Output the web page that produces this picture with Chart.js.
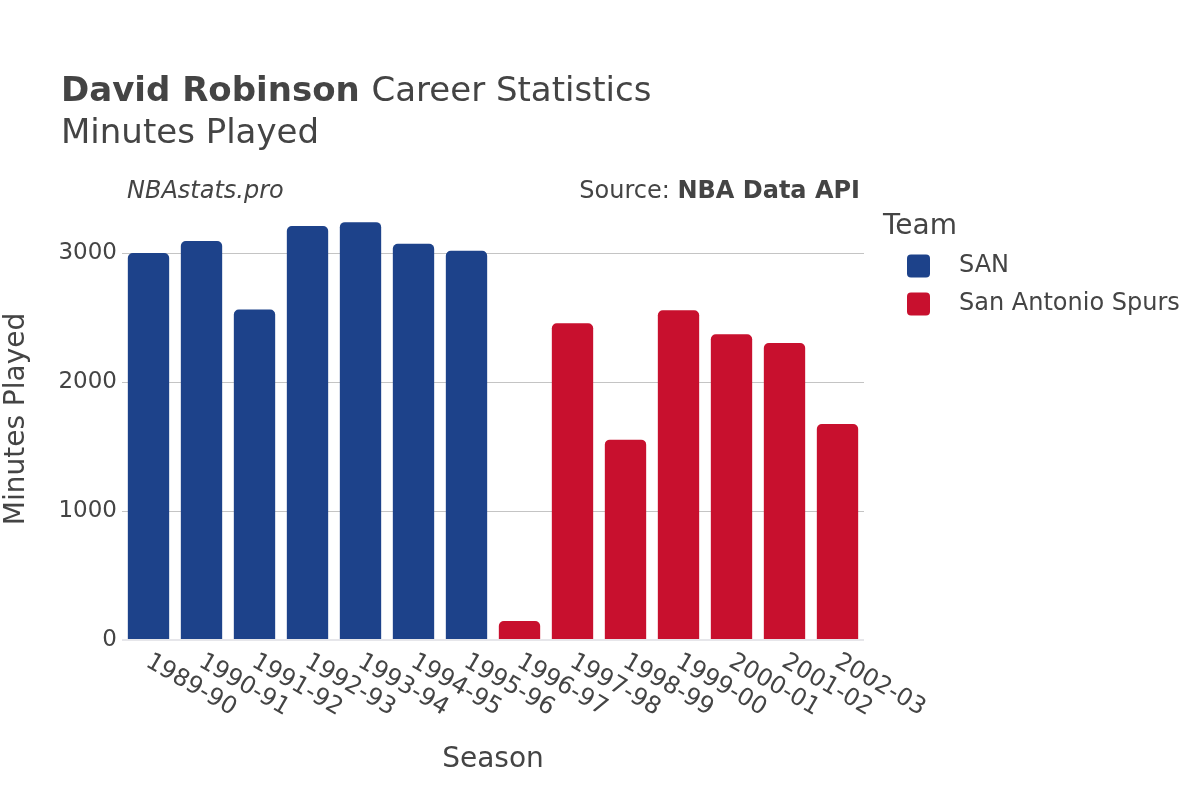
<!DOCTYPE html>
<html>
<head>
<meta charset="utf-8">
<script src="https://cdn.jsdelivr.net/npm/chart.js@4"></script>
<style>
html,body{margin:0;padding:0;background:#fff;}
#wrap{width:1200px;height:800px;position:relative;}
</style>
</head>
<body>
<div id="wrap"><canvas id="c" width="1200" height="800"></canvas></div>
<script>
const seasons = ["1989-90","1990-91","1991-92","1992-93","1993-94","1994-95","1995-96","1996-97","1997-98","1998-99","1999-00","2000-01","2001-02","2002-03"];
const sanMinutes = [3002,3095,2564,3211,3241,3074,3019,null,null,null,null,null,null,null];
const spursMinutes = [null,null,null,null,null,null,null,147,2457,1554,2557,2371,2303,1676];
const teamNames = ["SAN","San Antonio Spurs"];
const teamColors = ["#1D428A","#C8102E"];
const yTicks = [0,1000,2000,3000];

const FONT = "'DejaVu Sans', 'Liberation Sans', sans-serif";
const TEXT = "#444444";

const textPlugin = {
  id: 'textPlugin',
  afterDraw(chart) {
    const ctx = chart.ctx;
    const xs = chart.scales.x;
    ctx.save();
    ctx.fillStyle = TEXT;
    // Title
    ctx.textBaseline = 'alphabetic';
    ctx.textAlign = 'left';
    ctx.font = "bold 34px " + FONT;
    const boldPart = "David Robinson";
    ctx.fillText(boldPart, 61, 101);
    const bw = ctx.measureText(boldPart + " ").width;
    ctx.font = "34px " + FONT;
    ctx.fillText("Career Statistics", 61 + bw, 101);
    ctx.fillText("Minutes Played", 61, 143);
    // annotations
    ctx.font = "italic 24px " + FONT;
    ctx.textBaseline = 'middle';
    ctx.fillText("NBAstats.pro", 127, 192);
    ctx.font = "bold 24px " + FONT;
    ctx.textAlign = 'right';
    const srcB = "NBA Data API";
    ctx.fillText(srcB, 860, 192);
    const sbw = ctx.measureText(srcB).width;
    ctx.font = "24px " + FONT;
    ctx.fillText("Source: ", 860 - sbw, 192);
    // axis titles
    ctx.textAlign = 'center';
    ctx.font = "28px " + FONT;
    ctx.fillText("Season", 493, 760);
    ctx.save();
    ctx.translate(17, 419);
    ctx.rotate(-Math.PI / 2);
    ctx.fillText("Minutes Played", 0, 0);
    ctx.restore();
    // x tick labels rotated
    ctx.font = "24px " + FONT;
    ctx.textAlign = 'left';
    ctx.textBaseline = 'middle';
    seasons.forEach((s, i) => {
      const x = xs.getPixelForTick(i);
      ctx.save();
      ctx.translate(x - 1, 660);
      ctx.rotate(Math.PI / 6);
      ctx.fillText(s, 0, 0);
      ctx.restore();
    });
    // legend
    ctx.textAlign = 'left';
    ctx.font = "28px " + FONT;
    ctx.fillText("Team", 883, 227);
    ctx.font = "24px " + FONT;
    teamNames.forEach((n, i) => {
      const cy = 266 + i * 38;
      ctx.fillStyle = teamColors[i];
      ctx.beginPath();
      if (ctx.roundRect) ctx.roundRect(907, cy - 11.5, 23, 23, 4); else ctx.rect(907, cy - 11.5, 23, 23);
      ctx.fill();
      ctx.fillStyle = TEXT;
      ctx.fillText(n, 959, cy);
    });
    ctx.restore();
  }
};

new Chart(document.getElementById('c'), {
  type: 'bar',
  data: {
    labels: seasons,
    datasets: [
      { label: teamNames[0], data: sanMinutes, backgroundColor: teamColors[0], borderRadius: {topLeft: 5, topRight: 5}, borderSkipped: 'bottom' },
      { label: teamNames[1], data: spursMinutes, backgroundColor: teamColors[1], borderRadius: {topLeft: 5, topRight: 5}, borderSkipped: 'bottom' }
    ]
  },
  options: {
    responsive: false,
    animation: false,
    devicePixelRatio: 1,
    layout: { padding: { left: 0, right: 336, top: 201, bottom: 0 } },
    datasets: { bar: { grouped: false, barPercentage: 0.78, categoryPercentage: 1.0 } },
    plugins: { legend: { display: false }, title: { display: false }, tooltip: { enabled: false } },
    scales: {
      x: {
        grid: { display: false, drawTicks: false },
        border: { display: false },
        ticks: { display: false },
        afterFit(scale) { scale.height = 160; }
      },
      y: {
        min: 0,
        max: 3405,
        afterBuildTicks(scale) { scale.ticks = yTicks.map(v => ({ value: v })); },
        ticks: { includeBounds: false, color: TEXT, font: { family: FONT, size: 23 }, padding: 5, callback: (v) => String(v) },
        grid: {
          color: (c) => c.tick && c.tick.value === 0 ? '#e6e6ea' : '#c4c4c4',
          lineWidth: (c) => c.tick && c.tick.value === 0 ? 2 : 1,
          drawTicks: false
        },
        border: { display: false },
        afterFit(scale) { scale.width = 122; }
      }
    }
  },
  plugins: [textPlugin]
});
</script>
</body>
</html>
